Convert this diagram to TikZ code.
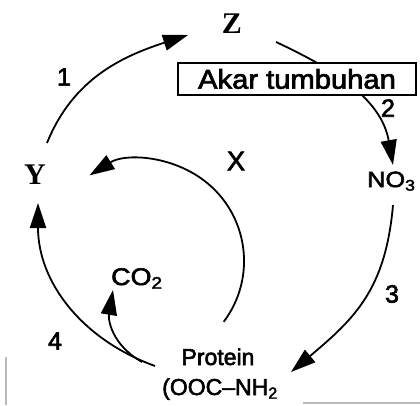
\documentclass[tikz,border=0pt]{standalone}
\usepackage{fontspec}
\setmainfont{Liberation Serif}
\setsansfont{Liberation Sans}
\newfontfamily\scansans{Liberation Sans}[FakeBold=2.5, Ligatures=TeX]
\usetikzlibrary{arrows.meta}
\tikzset{
  arr/.style={line width=1.8pt, -{Triangle[length=25pt,width=16pt]}},
  lbl/.style={font=\scansans\fontsize{25}{27}\selectfont, inner sep=0pt},
  chem/.style={font=\scansans\fontsize{23}{25}\selectfont, inner sep=0pt},
  bigletter/.style={font=\bfseries\fontsize{30}{32}\selectfont, fill=white, inner sep=0pt},
  rootbox/.style={draw, line width=1.5pt, fill=white, minimum width=238pt, minimum height=32pt, inner sep=0pt,
    font=\scansans\fontsize{27}{29}\selectfont},
  scanline/.style={gray!55, line width=1.2pt}
}
\begin{document}
\begin{tikzpicture}[x=1pt,y=1pt]
\useasboundingbox (0,0) rectangle (420,405);
% letter boxes
\node[bigletter, minimum width=84pt, minimum height=48pt] (Z) at (232,381) {Z};
\node[bigletter, minimum width=70pt, minimum height=56pt] (Y) at (35,230) {Y};
% chemical labels
\node[chem, font=\scansans\fontsize{22}{24}\selectfont, anchor=base west] (NO) at (367,218) {\scalebox{1.15}[1]{NO\textsubscript{3}}};
\node[chem, font=\scansans\fontsize{24}{26}\selectfont, anchor=base west] (CO) at (111,120) {\scalebox{1.12}[1]{CO\textsubscript{2}}};
\node[chem, anchor=base] (P1) at (218,40) {Protein};
\node[chem, anchor=base] (P2) at (220,10) {(OOC–NH\textsubscript{2}};
% numbers
\node[lbl] (n1) at (64,328) {1};
\node[lbl] (n2) at (388,297) {2};
\node[lbl] (n3) at (392,111) {3};
\node[lbl] (n4) at (55,64) {4};
\node[lbl, font=\scansans\fontsize{27}{29}\selectfont] (nx) at (236,244) {X};
% connector ends
\coordinate (a1s) at (47,262);
\coordinate (a1e) at (188,370);
\coordinate (a2s) at (276,363);
\coordinate (a2e) at (393,240);
\coordinate (a3s) at (393,200);
\coordinate (a3e) at (291,33);
\coordinate (a4s) at (155,39);
\coordinate (a4e) at (38,202);
\coordinate (c2s) at (142,43);
\coordinate (c2e) at (113,115);
\coordinate (xs) at (223.7,83.2);
% arrows
\draw[arr] (a1s) to[out=68,in=198] (a1e);
\draw[arr] (a2s) to[out=-25,in=100] (a2e);
\draw[arr] (a3s) to[out=-95,in=40,looseness=1.1] (a3e);
\draw[arr] (a4s) to[out=160,in=-90] (a4e);
\draw[arr] (c2s) .. controls (112,60) and (108,85) .. (c2e);
\draw[arr] (xs) arc[start angle=-37, end angle=122, radius=101];
% root box on top of arrow 2
\node[rootbox] (akar) at (297,326) {\scalebox{1.08}[1]{Akar tumbuhan}};
% scan edges
\draw[scanline] (6,0) -- (6,48);
\draw[scanline] (303,2) -- (420,2);
\end{tikzpicture}
\end{document}
